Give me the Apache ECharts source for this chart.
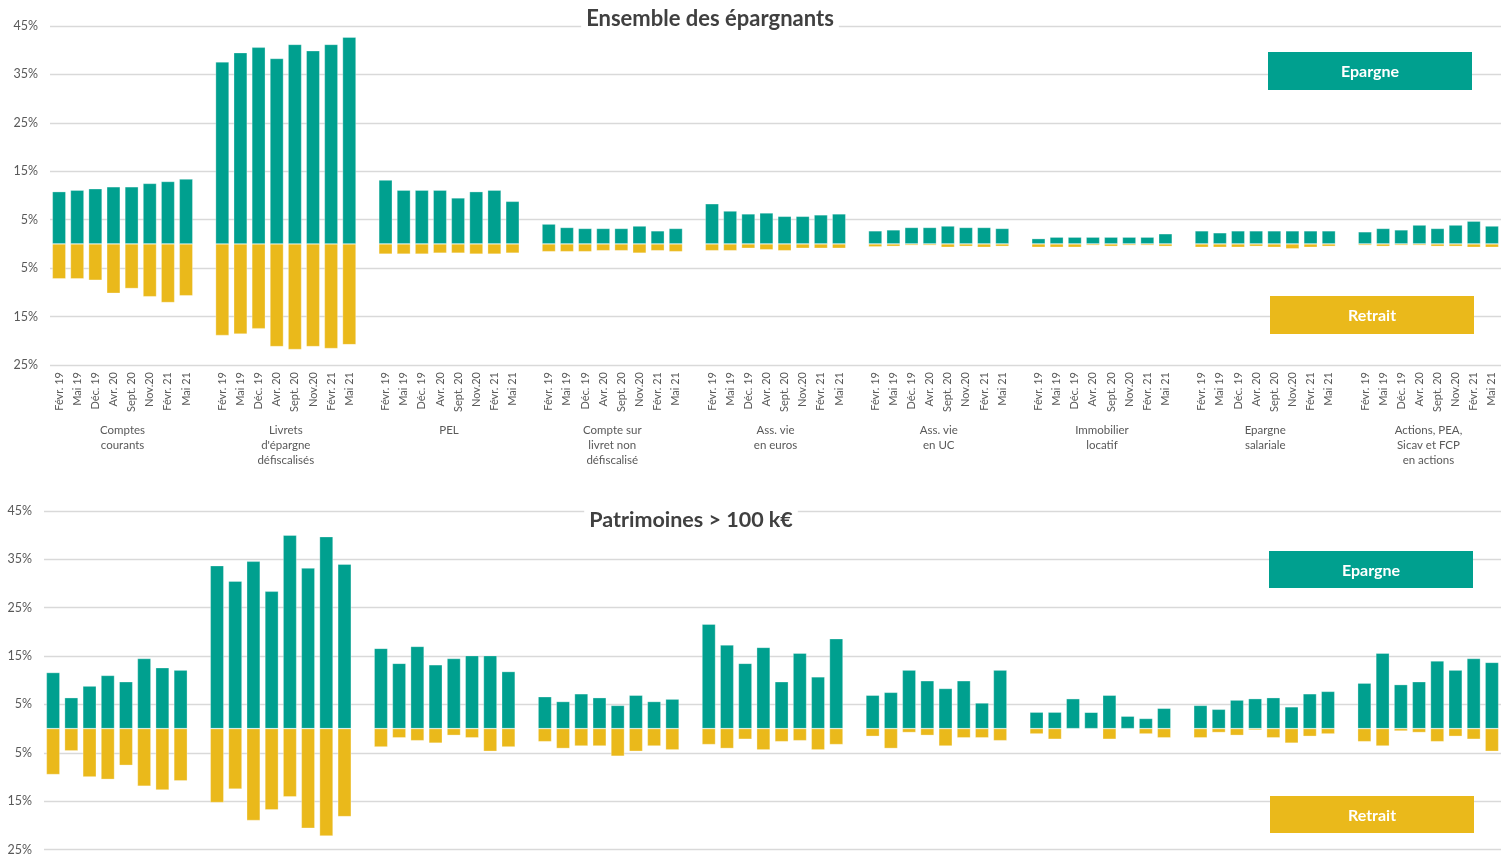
<!DOCTYPE html>
<html>
<head>
<meta charset="utf-8">
<script src="https://cdn.jsdelivr.net/npm/echarts@6/dist/echarts.min.js"></script>
<style>
  body { margin: 0; background: #fff; }
  #chart { width: 1501px; height: 856px; }
</style>
</head>
<body>
<div id="chart"></div>
<script>
// catégories
const months = ['Févr. 19', 'Mai 19', 'Déc. 19', 'Avr. 20', 'Sept. 20', 'Nov.20', 'Févr. 21', 'Mai 21']
const groups = [
  'Comptes\ncourants',
  "Livrets\nd'épargne\ndéfiscalisés",
  'PEL',
  'Compte sur\nlivret non\ndéfiscalisé',
  'Ass. vie\nen euros',
  'Ass. vie\nen UC',
  'Immobilier\nlocatif',
  'Epargne\nsalariale',
  'Actions, PEA,\nSicav et FCP\nen actions'
]
const yTicks = [-25, -15, -5, 5, 15, 25, 35, 45]

// Ensemble des épargnants (%)
const ensEpargne = [
  [10.8, 11.1, 11.4, 11.8, 11.8, 12.5, 12.9, 13.4],
  [37.6, 39.5, 40.6, 38.3, 41.2, 39.9, 41.2, 42.7],
  [13.2, 11.1, 11.1, 11.1, 9.5, 10.8, 11.1, 8.8],
  [4.1, 3.4, 3.2, 3.2, 3.2, 3.7, 2.7, 3.2],
  [8.3, 6.8, 6.2, 6.4, 5.7, 5.7, 6.0, 6.2],
  [2.7, 2.9, 3.4, 3.4, 3.7, 3.4, 3.4, 3.2],
  [1.1, 1.4, 1.4, 1.4, 1.4, 1.4, 1.4, 2.1],
  [2.7, 2.3, 2.7, 2.7, 2.7, 2.7, 2.7, 2.7],
  [2.5, 3.2, 2.9, 3.9, 3.2, 3.9, 4.7, 3.7]
]
const ensRetrait = [
  [-7.2, -7.2, -7.5, -10.2, -9.2, -10.9, -12.1, -10.7],
  [-18.9, -18.6, -17.5, -21.2, -21.8, -21.2, -21.6, -20.8],
  [-2.1, -2.1, -2.1, -1.9, -1.9, -2.1, -2.1, -1.9],
  [-1.6, -1.6, -1.6, -1.4, -1.4, -1.9, -1.4, -1.6],
  [-1.4, -1.4, -0.9, -1.2, -1.4, -0.9, -0.9, -0.9],
  [-0.6, -0.5, -0.3, -0.3, -0.7, -0.5, -0.7, -0.5],
  [-0.7, -0.7, -0.7, -0.3, -0.5, -0.3, -0.3, -0.5],
  [-0.7, -0.7, -0.7, -0.5, -0.7, -1.0, -0.7, -0.5],
  [-0.3, -0.5, -0.3, -0.3, -0.5, -0.5, -0.7, -0.7]
]

// Patrimoines > 100 k€ (%)
const patEpargne = [
  [11.6, 6.4, 8.8, 11.0, 9.7, 14.5, 12.6, 12.1],
  [33.7, 30.5, 34.6, 28.4, 40.0, 33.2, 39.7, 34.0],
  [16.6, 13.5, 17.0, 13.2, 14.5, 15.1, 15.1, 11.8],
  [6.6, 5.6, 7.2, 6.4, 4.8, 6.9, 5.6, 6.1],
  [21.6, 17.3, 13.5, 16.8, 9.7, 15.6, 10.7, 18.6],
  [6.9, 7.5, 12.1, 9.9, 8.3, 9.9, 5.3, 12.1],
  [3.4, 3.4, 6.2, 3.4, 6.9, 2.6, 2.1, 4.2],
  [4.8, 4.0, 5.9, 6.2, 6.4, 4.5, 7.2, 7.7],
  [9.4, 15.6, 9.1, 9.7, 14.0, 12.1, 14.5, 13.7]
]
const patRetrait = [
  [-9.5, -4.6, -10.0, -10.5, -7.6, -11.9, -12.7, -10.8],
  [-15.3, -12.5, -19.0, -16.8, -14.1, -20.6, -22.2, -18.2],
  [-3.8, -1.9, -2.5, -3.0, -1.4, -1.9, -4.7, -3.8],
  [-2.7, -4.1, -3.6, -3.6, -5.7, -4.7, -3.6, -4.4],
  [-3.3, -4.1, -2.2, -4.4, -2.7, -2.5, -4.4, -3.3],
  [-1.6, -4.1, -0.8, -1.4, -3.6, -1.9, -1.9, -2.5],
  [-1.1, -2.2, 0, 0, -2.2, 0, -1.1, -1.9],
  [-1.9, -0.8, -1.4, -0.3, -1.9, -3.0, -1.6, -1.1],
  [-2.7, -3.6, -0.5, -0.8, -2.7, -1.6, -2.2, -4.7]
]

const TEAL = '#00a08f'
const GOLD = '#eab91b'
const GREY = '#595959'
const FONT = 'Lato'

// une case vide entre chaque groupe de 8 barres
function flatten(rows) {
  let out = []
  rows.forEach((r, i) => {
    out = out.concat(r)
    if (i < rows.length - 1) out.push(null)
  })
  return out
}
let cats = flatten(groups.map(() => months))
cats = cats.map(c => (c === null ? '' : c))
const groupCenters = groups.map((g, i) => i * 9 + 3.5)

let myChart = echarts.init(document.getElementById('chart'))

function yAxisFor(idx) {
  return {
    type: 'value',
    gridIndex: idx,
    min: -25,
    max: 45,
    interval: 10,
    axisLine: { show: false },
    axisTick: { show: false },
    axisLabel: {
      margin: 12,
      color: GREY,
      fontFamily: FONT,
      fontSize: 12.5,
      formatter: v => (yTicks.indexOf(v) >= 0 ? Math.abs(v) + '%' : '')
    },
    splitLine: { lineStyle: { color: '#d9d9d9', width: 1.3 } }
  }
}

function barSeries(name, data, color, idx) {
  return {
    name: name,
    type: 'bar',
    stack: 'p' + idx,
    xAxisIndex: idx === 0 ? 0 : 2,
    yAxisIndex: idx,
    barWidth: 13.5,
    data: data,
    itemStyle: { color: color, borderColor: 'rgba(255,255,255,0.5)', borderWidth: 0.6 },
    emphasis: { disabled: true }
  }
}

function legendBox(x, y, w, h, color, text) {
  return {
    type: 'group',
    x: x,
    y: y,
    children: [
      { type: 'rect', z: 100, shape: { x: 0, y: 0, width: w, height: h }, style: { fill: color } },
      {
        type: 'text',
        z: 101,
        x: w / 2,
        y: h / 2 + 1,
        style: {
          text: text,
          fill: '#fff',
          font: 'bold 16px ' + FONT,
          align: 'center',
          verticalAlign: 'middle'
        }
      }
    ]
  }
}

function titleText(x, y, size, text) {
  return {
    type: 'text',
    x: x,
    y: y,
    z: 100,
    style: {
      text: text,
      fill: '#404040',
      font: 'bold ' + size + 'px ' + FONT,
      align: 'center',
      verticalAlign: 'middle',
      backgroundColor: '#fff',
      padding: [2, 5]
    }
  }
}

let option = {
  animation: false,
  grid: [
    { left: 50, right: -4, top: 26, height: 339 },
    { left: 44, right: -3, top: 511, height: 340 }
  ],
  xAxis: [
    {
      type: 'category',
      gridIndex: 0,
      data: cats,
      axisLine: { show: false, onZero: false },
      axisTick: { show: false },
      axisLabel: {
        interval: 0,
        rotate: 90,
        margin: 7,
        color: GREY,
        fontFamily: FONT,
        fontSize: 11
      },
      splitLine: { show: false }
    },
    {
      // libellés des groupes
      type: 'value',
      gridIndex: 0,
      position: 'bottom',
      min: -0.5,
      max: 79.5,
      axisLine: { show: false, onZero: false },
      axisTick: { show: false },
      splitLine: { show: false },
      axisLabel: {
        customValues: groupCenters,
        margin: 58,
        color: GREY,
        fontFamily: FONT,
        fontSize: 11.5,
        lineHeight: 15,
        formatter: v => groups[Math.round((v - 3.5) / 9)] || ''
      }
    },
    {
      type: 'category',
      gridIndex: 1,
      data: cats,
      axisLine: { show: false, onZero: false },
      axisTick: { show: false },
      axisLabel: { show: false },
      splitLine: { show: false }
    }
  ],
  yAxis: [yAxisFor(0), yAxisFor(1)],
  series: [
    barSeries('Epargne', flatten(ensEpargne), TEAL, 0),
    barSeries('Retrait', flatten(ensRetrait), GOLD, 0),
    barSeries('Epargne', flatten(patEpargne), TEAL, 1),
    barSeries('Retrait', flatten(patRetrait), GOLD, 1)
  ],
  graphic: [
    titleText(710, 19, 22, 'Ensemble des épargnants'),
    titleText(691, 520, 21.5, 'Patrimoines > 100 k€'),
    legendBox(1268, 52, 204, 38, TEAL, 'Epargne'),
    legendBox(1270, 296, 204, 38, GOLD, 'Retrait'),
    legendBox(1269, 551, 204, 37, TEAL, 'Epargne'),
    legendBox(1270, 796, 204, 37, GOLD, 'Retrait')
  ]
}
myChart.setOption(option)
</script>
</body>
</html>
